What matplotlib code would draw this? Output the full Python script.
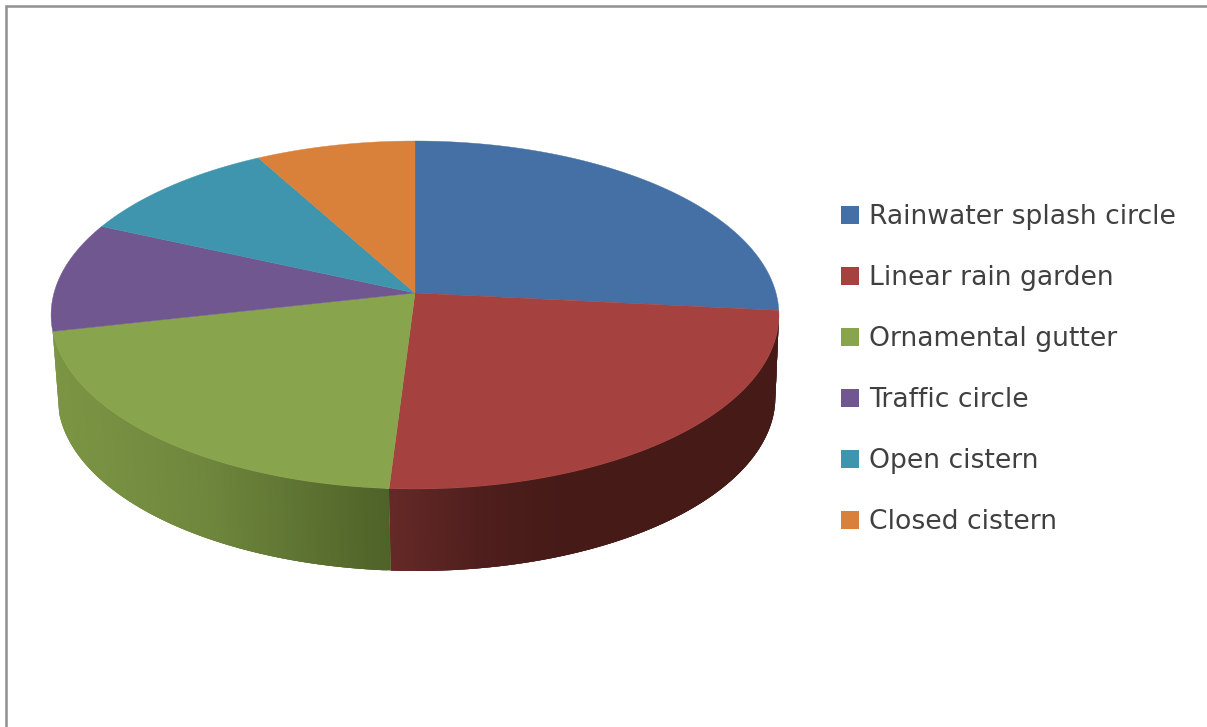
# -*- coding: utf-8 -*-
import numpy as np
import matplotlib
matplotlib.use('agg')
import matplotlib.pyplot as plt
from matplotlib.colors import to_rgb
from matplotlib.patches import Patch

# share of each slice (percent)
labels = ['Rainwater splash circle', 'Linear rain garden', 'Ornamental gutter',
          'Traffic circle', 'Open cistern', 'Closed cistern']
shares = [26.6, 24.4, 20.5, 10.2, 10.3, 8.0]
colors = ['#4470A6', '#A5423F', '#88A44C', '#71578F', '#4095AE', '#D9813A']

# side wall shading, left to right on screen
side_shades = {1: [(0.0, '#652A28'), (0.25, '#4E1E1C'), (0.45, '#451A17'), (1.0, '#451A17')],
               2: [(0.0, '#7C9544'), (0.45, '#6F873D'), (1.0, '#4F6228')]}

W, H = 1207, 727
tilt = 0.1264


def rim(angle, cx, cy, a, b):
    # clockwise from 12 o'clock, with a little perspective
    t = np.radians(angle)
    u, v = np.sin(t), np.cos(t)
    return cx + a * u / (1 + tilt * v), cy - b * v / (1 + tilt * v)


def top_rim(angle):
    return rim(angle, 415, 293, 361, 171.2)


def base_rim(angle):
    return rim(angle, 416.5, 375, 356, 171.2)


fig = plt.figure(figsize=(W / 100, H / 100), dpi=100)
ax = fig.add_axes([0, 0, 1, 1])
ax.set_xlim(0, W)
ax.set_ylim(H, 0)
ax.axis('off')

# chart frame, cut off at the right and bottom
ax.plot([6, 6, W], [H, 6, 6], color='#909090', lw=1.8, solid_joinstyle='miter')

edges = np.cumsum([0] + shares) / sum(shares) * 360

# side walls of the slices that face the viewer
for i, shades in side_shades.items():
    angles = np.append(np.arange(edges[i], edges[i + 1], 0.5), edges[i + 1])
    xs = np.array(top_rim(angles)[0])
    pos = (xs - xs.min()) / (xs.max() - xs.min())
    stops = [s[0] for s in shades]
    rgb = np.array([to_rgb(s[1]) for s in shades])
    # strips overlap the next one so no seams show
    for a0, p in zip(angles[:-1], pos[:-1]):
        a1 = min(a0 + 1.5, edges[i + 1])
        x0, y0 = top_rim(a0)
        x1, y1 = top_rim(a1)
        x2, y2 = base_rim(a1)
        x3, y3 = base_rim(a0)
        col = [np.interp(p, stops, rgb[:, k]) for k in range(3)]
        ax.fill([x0, x1, x2, x3], [y0, y1, y2, y3], color=col, lw=0)

# top face
for i, col in enumerate(colors):
    angles = np.linspace(edges[i], edges[i + 1], 200)
    x, y = top_rim(angles)
    ax.fill(np.r_[415, x], np.r_[293, y], color=col, lw=0.3)

handles = [Patch(facecolor=c, edgecolor='none') for c in colors]
fs = 19.2
ax.legend(handles, labels, loc='upper left', bbox_to_anchor=(841, 204.5),
          bbox_transform=ax.transData, frameon=False, prop={'family': 'DejaVu Sans', 'size': fs},
          labelcolor='#404040', borderpad=0, borderaxespad=0, handlelength=13 / fs,
          handleheight=13 / fs, handletextpad=0.36, labelspacing=1.31)

fig.savefig('out.png', dpi=100)
